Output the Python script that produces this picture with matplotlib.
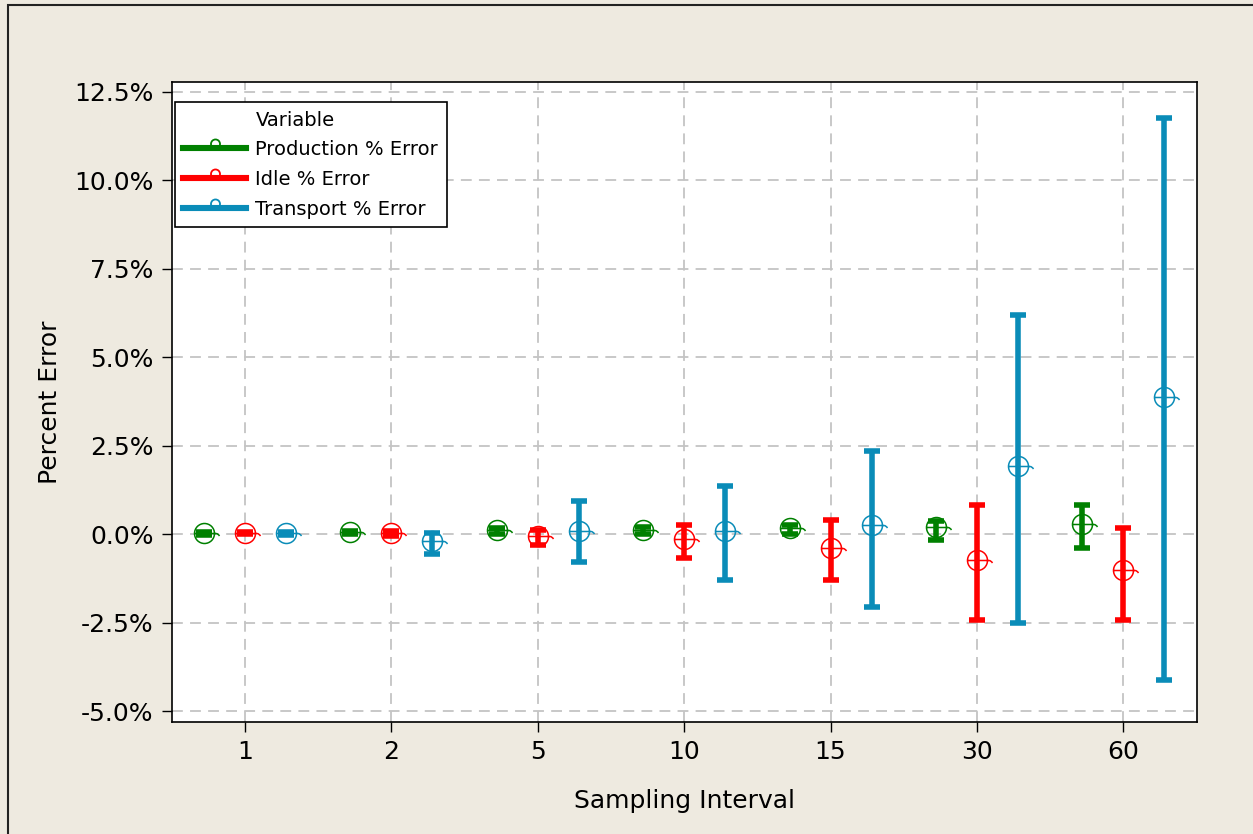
import matplotlib
matplotlib.use("Agg")
import matplotlib.pyplot as plt
import numpy as np
from matplotlib.path import Path
from matplotlib.lines import Line2D
from matplotlib.patches import Rectangle
from matplotlib.ticker import FuncFormatter

plt.rcParams['font.family'] = ['DejaVu Sans']

# Sampling intervals (categories on the x axis)
intervals = ['1', '2', '5', '10', '15', '30', '60']

# Mean percent error and interval bounds for each variable (%)
prod_mean = [0.03, 0.05, 0.13, 0.12, 0.17, 0.19, 0.30]
prod_lo = [-0.02, 0.00, 0.00, 0.00, 0.00, -0.17, -0.40]
prod_hi = [0.07, 0.10, 0.18, 0.20, 0.27, 0.37, 0.82]

idle_mean = [0.03, 0.02, -0.05, -0.15, -0.40, -0.74, -1.02]
idle_lo = [0.00, -0.06, -0.30, -0.68, -1.30, -2.44, -2.44]
idle_hi = [0.06, 0.08, 0.12, 0.25, 0.40, 0.82, 0.18]

trans_mean = [0.02, -0.20, 0.10, 0.10, 0.25, 1.93, 3.89]
trans_lo = [-0.02, -0.55, -0.80, -1.30, -2.05, -2.50, -4.12]
trans_hi = [0.06, 0.02, 0.93, 1.36, 2.35, 6.19, 11.77]

series_names = ['Production % Error', 'Idle % Error', 'Transport % Error']
series_colors = ['#008000', '#FF0000', '#0A8CB8']

y_ticks = [-5.0, -2.5, 0.0, 2.5, 5.0, 7.5, 10.0, 12.5]

series = [
    (prod_mean, prod_lo, prod_hi),
    (idle_mean, idle_lo, idle_hi),
    (trans_mean, trans_lo, trans_hi),
]
offsets = [-0.28, 0.0, 0.28]

# Mean symbol: open circle with a horizontal bar and a small tail
circle = Path.unit_circle()
bar = Path([(-1.0, 0.0), (1.15, 0.0)], [Path.MOVETO, Path.LINETO])
tail = Path([(1.15, 0.0), (1.35, 0.0), (1.5, -0.25)],
            [Path.MOVETO, Path.CURVE3, Path.CURVE3])
mean_marker = Path.make_compound_path(circle, bar, tail)

# Legend symbol: small circle on a short stem
small_circle = Path(Path.unit_circle().vertices * 0.5 + np.array([0.0, 0.5]),
                    Path.unit_circle().codes)
stem = Path([(0.0, 0.0), (0.0, -0.25)], [Path.MOVETO, Path.LINETO])
legend_marker = Path.make_compound_path(small_circle, stem)

fig = plt.figure(figsize=(12.53, 8.34), dpi=100)
fig.patch.set_facecolor('#EEEAE0')
ax = fig.add_axes([0.137, 0.1347, 0.818, 0.7670])
ax.set_facecolor('white')

x_base = np.arange(len(intervals))
for (mean, lo, hi), off, col in zip(series, offsets, series_colors):
    x = x_base + off
    mean = np.array(mean)
    yerr = [mean - np.array(lo), np.array(hi) - mean]
    ax.errorbar(x, mean, yerr=yerr, fmt='none', ecolor=col,
                elinewidth=4.0, capsize=5.8, capthick=4.0, zorder=3)
    ax.plot(x, mean, linestyle='none', marker=mean_marker, markersize=21.6,
            markerfacecolor='none', markeredgecolor=col,
            markeredgewidth=1.1, zorder=4)

ax.set_xlim(-0.5, 6.5)
ax.set_ylim(-5.3, 12.78)
ax.set_xticks(x_base)
ax.set_xticklabels(intervals)
ax.set_yticks(y_ticks)
ax.yaxis.set_major_formatter(FuncFormatter(lambda v, p: f'{v:.1f}%'))

ax.grid(True, linestyle=(0, (6, 4)), color='#C4C4C4', linewidth=1.3, zorder=0)
ax.set_axisbelow(True)
for s in ax.spines.values():
    s.set_linewidth(1.2)
    s.set_color('black')

ax.tick_params(axis='both', direction='out', length=7, width=1,
               labelsize=18, pad=6, color='black')

ax.set_xlabel('Sampling Interval', fontsize=18, labelpad=18)
ax.set_ylabel('Percent Error', fontsize=18, labelpad=9)

handles = [Line2D([], [], color='none')]
for col in series_colors:
    handles.append(Line2D([], [], color=col, linewidth=4.4,
                          marker=legend_marker, markersize=13,
                          markerfacecolor='none', markeredgecolor=col,
                          markeredgewidth=1.3))
labels = ['Variable'] + series_names
leg = ax.legend(handles, labels, loc='upper left',
                bbox_to_anchor=(0.003, 0.969), borderaxespad=0,
                fontsize=14, frameon=True, fancybox=False,
                edgecolor='black', framealpha=1, handlelength=3.2,
                handletextpad=0.5, borderpad=0.45, labelspacing=0.55,
                numpoints=1)
leg.get_frame().set_linewidth(1.2)

# Outer frame around the figure
fig.add_artist(Rectangle((8 / 1253, -0.5), 2.0, 0.994 + 0.5,
                         transform=fig.transFigure, fill=False,
                         edgecolor='#222222', linewidth=1.5))

fig.savefig('out.png', dpi=100, facecolor=fig.get_facecolor())
